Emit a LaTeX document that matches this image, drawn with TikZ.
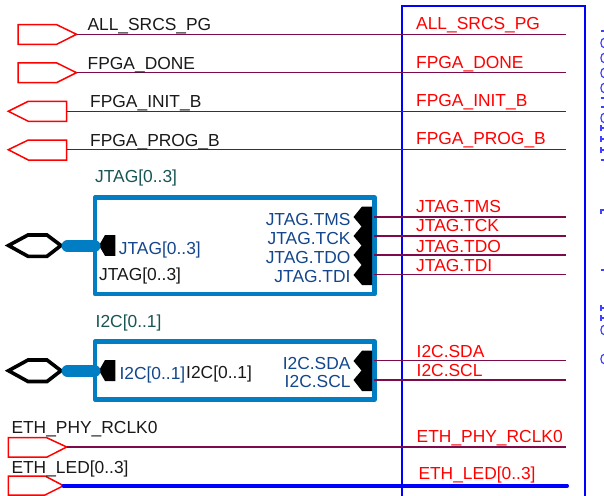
\documentclass[tikz,border=0pt]{standalone}
\usepackage{fontspec}
\setmainfont{Liberation Sans}
\definecolor{wirecol}{RGB}{125,10,75}
\definecolor{blockcol}{RGB}{0,125,195}
\definecolor{pincol}{RGB}{20,70,140}
\definecolor{titlecol}{RGB}{25,85,85}
\begin{document}
\begin{tikzpicture}[x=1pt,y=-1pt,
	wire/.style={draw=wirecol, line width=1.3pt},
	bus/.style={draw=blue, line width=4pt, line cap=round},
	portbox/.style={draw=red, line width=1.5pt, line join=miter},
	sheet/.style={draw=blue, line width=1.7pt},
	block/.style={draw=blockcol, line width=4.8pt, line join=round},
	stub/.style={draw=blockcol, line width=12pt, line cap=round},
	bidir/.style={draw=black, line width=3.6pt},
	clipped/.style={draw=blue!75!white, line width=1.2pt},
	nettext/.style={inner sep=0pt, anchor=base west, font=\fontsize{17.4}{18}\selectfont, text=black!90},
	redtext/.style={inner sep=0pt, anchor=base west, font=\fontsize{17.4}{18}\selectfont, text=red},
	pintext/.style={inner sep=0pt, font=\fontsize{17.4}{18}\selectfont, text=pincol},
	titletext/.style={inner sep=0pt, anchor=base west, font=\fontsize{17.4}{18}\selectfont, text=titlecol}
]
\useasboundingbox (0,0) rectangle (604,495);

% Sheet frame
\draw[sheet] (402.3,5.7) rectangle (585,500);

% Cut off marks at the right edge
\foreach \y in {43,58,73,88,118,330,359}
	\draw[clipped] (605,\y-5) .. controls (599.5,\y-5) and (599.5,\y+5) .. (605,\y+5);
\foreach \y in {128,139,150,308,318}
	\draw[clipped] (601,\y-3) -- (601,\y+3) (601,\y) -- (605,\y);
\foreach \y in {31,98,107,160,270}
	\draw[clipped] (600.5,\y) -- (605,\y);
\draw[clipped] (601,214) -- (601,210) -- (605,210);

% Left side ports
\coordinate (tipA) at (76.5,34.3);
\coordinate (tipB) at (76.5,72.7);
\coordinate (tailC) at (66.7,111.3);
\coordinate (tailD) at (66.7,149.7);
\coordinate (tipE) at (66.7,447);
\coordinate (tipF) at (63.5,485.7);
\draw[portbox] (18,24.7) -- (56.7,24.7) -- (tipA) -- (56.7,44.3) -- (18,44.3) -- cycle;
\draw[portbox] (18,62.9) -- (56.7,62.9) -- (tipB) -- (56.7,82.6) -- (18,82.6) -- cycle;
\draw[portbox] (8.3,111.3) -- (28.3,101.3) -- (66.7,101.3) -- (66.7,121.3) -- (28.3,121.3) -- cycle;
\draw[portbox] (8.3,149.7) -- (28.3,140) -- (66.7,140) -- (66.7,160) -- (28.3,160) -- cycle;
\draw[portbox] (8.3,437.7) -- (46.7,437.7) -- (tipE) -- (46.7,457.2) -- (8.3,457.2) -- cycle;
\draw[portbox] (8.3,476) -- (45,476) -- (tipF) -- (45,495) -- (8.3,495) -- cycle;

% Right side ends
\coordinate (endA) at (566,34.3);
\coordinate (endB) at (566,72.7);
\coordinate (endC) at (566,111.3);
\coordinate (endD) at (566,149.7);
\coordinate (endE) at (566,217);
\coordinate (endF) at (566,236);
\coordinate (endG) at (566,255);
\coordinate (endH) at (566,274.3);
\coordinate (endI) at (566,360.7);
\coordinate (endJ) at (566,380);
\coordinate (endK) at (566,447);
\coordinate (endL) at (567,485.7);

% Blocks
\draw[block] (95,197.5) rectangle (374.3,294);
\draw[block] (95,341.5) rectangle (374.3,399.5);

% Block pins
\fill[black] (115.3,235) -- (105,235) -- (99,245.5) -- (105,255.8) -- (115.3,255.8) -- cycle;
\fill[black] (115.3,360) -- (105,360) -- (99,370.5) -- (105,381) -- (115.3,381) -- cycle;
\fill[black] (372,206.5) -- (362,206.5) -- (353.5,217) -- (361.5,226.5) -- (353.5,236) -- (361.5,245.5) -- (353.5,255) -- (361.5,265) -- (353.5,275) -- (362,285) -- (372,285) -- cycle;
\fill[black] (372,350.7) -- (362,350.7) -- (353.5,361) -- (361.5,370.5) -- (353.5,380) -- (362,391) -- (372,391) -- cycle;

% Wires
\foreach \from/\to in {tipA/endA, tipB/endB, tailC/endC, tailD/endD, tipE/endK}
	\draw[wire] (\from) -- (\to);
\coordinate (pinE) at (374,217);
\coordinate (pinF) at (374,236);
\coordinate (pinG) at (374,255);
\coordinate (pinH) at (374,274.3);
\coordinate (pinI) at (374,360.7);
\coordinate (pinJ) at (374,380);
\foreach \from/\to in {pinE/endE, pinF/endF, pinG/endG, pinH/endH, pinI/endI, pinJ/endJ}
	\draw[wire] (\from) -- (\to);
\draw[bus] (tipF) -- (endL);

% Bidirectional ports
\draw[bidir] (8.5,245.5) -- (28,235) -- (47,235) -- (61,245.5) -- (47,256.3) -- (28,256.3) -- cycle;
\draw[bidir] (8.5,370.7) -- (28,360) -- (47,360) -- (61,370.7) -- (47,381.5) -- (28,381.5) -- cycle;
\coordinate (stubA) at (67.5,246);
\coordinate (stubB) at (94.5,246);
\coordinate (stubC) at (67.5,371);
\coordinate (stubD) at (94.5,371);
\draw[stub] (stubA) -- (stubB);
\draw[stub] (stubC) -- (stubD);

% Left net labels
\node[nettext] (lblA) at (87.3,31) {ALL\_SRCS\_PG};
\node[nettext] (lblB) at (87.5,69) {FPGA\_DONE};
\node[nettext] (lblC) at (90,107.7) {FPGA\_INIT\_B};
\node[nettext] (lblD) at (90,146) {FPGA\_PROG\_B};
\node[nettext] (lblE) at (11.3,433.3) {ETH\_PHY\_RCLK0};
\node[nettext] (lblF) at (11.3,473) {ETH\_LED[0..3]};

% Block titles and labels
\node[titletext] (titleJ) at (95,182) {JTAG[0..3]};
\node[titletext] (titleI) at (95.5,327) {I2C[0..1]};
\node[pintext, anchor=base west] (pinJtag) at (118.7,254) {JTAG[0..3]};
\node[nettext] (netJtag) at (99,280.7) {JTAG[0..3]};
\node[pintext, anchor=base west] (pinIic) at (119.3,379) {I2C[0..1]};
\node[nettext] (netIic) at (186,378.3) {I2C[0..1]};
\node[pintext, anchor=base east] (pinTms) at (350.7,225) {JTAG.TMS};
\node[pintext, anchor=base east] (pinTck) at (350.7,244) {JTAG.TCK};
\node[pintext, anchor=base east] (pinTdo) at (350.7,263) {JTAG.TDO};
\node[pintext, anchor=base east] (pinTdi) at (350.7,282.7) {JTAG.TDI};
\node[pintext, anchor=base east] (pinSda) at (350.7,369) {I2C.SDA};
\node[pintext, anchor=base east] (pinScl) at (350.7,387.7) {I2C.SCL};

% Right net labels
\node[redtext] (redA) at (416,29.3) {ALL\_SRCS\_PG};
\node[redtext] (redB) at (416,68) {FPGA\_DONE};
\node[redtext] (redC) at (416,106) {FPGA\_INIT\_B};
\node[redtext] (redD) at (416,144) {FPGA\_PROG\_B};
\node[redtext] (redE) at (416,212.7) {JTAG.TMS};
\node[redtext] (redF) at (416,231.7) {JTAG.TCK};
\node[redtext] (redG) at (416,252) {JTAG.TDO};
\node[redtext] (redH) at (416,271) {JTAG.TDI};
\node[redtext] (redI) at (416.5,357) {I2C.SDA};
\node[redtext] (redJ) at (416.5,376.3) {I2C.SCL};
\node[redtext] (redK) at (416.5,442.3) {ETH\_PHY\_RCLK0};
\node[redtext] (redL) at (418.3,479.3) {ETH\_LED[0..3]};

\end{tikzpicture}
\end{document}
